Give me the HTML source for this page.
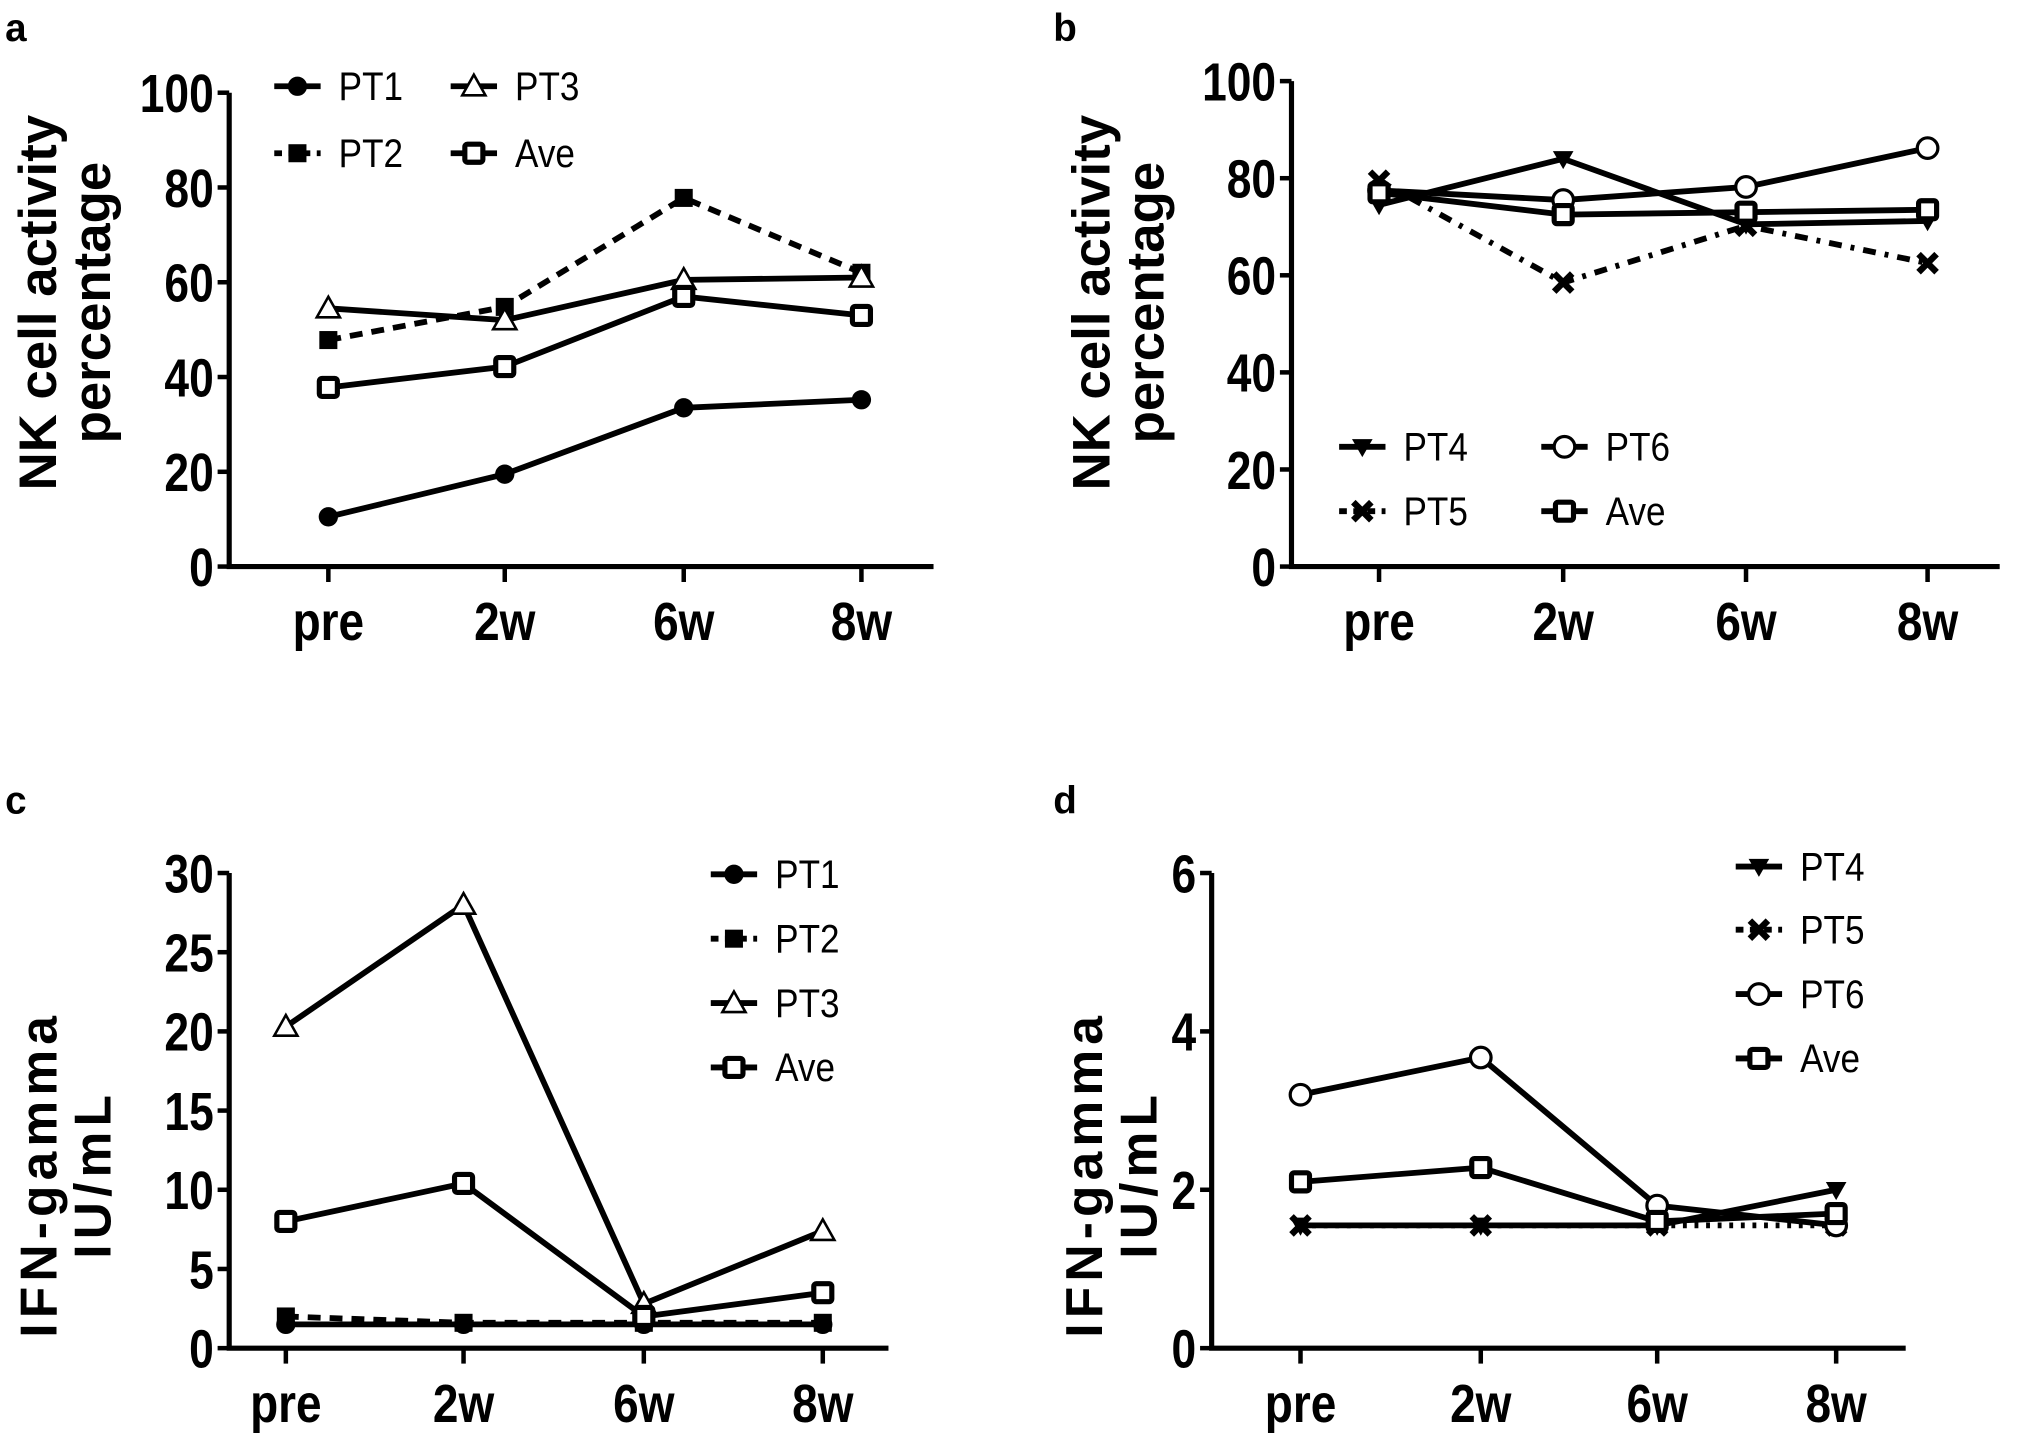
<!DOCTYPE html>
<html><head><meta charset="utf-8"><style>
html,body{margin:0;padding:0;background:#fff;}
svg{display:block;}
text{font-family:"Liberation Sans",Arial,sans-serif;fill:#000;}
</style></head><body>
<svg id="fig" width="2019" height="1437" viewBox="0 0 1568 1116" xmlns="http://www.w3.org/2000/svg"></svg>
<script>
const categories = ["pre","2w","6w","8w"];
// Panel a (NK activity %)
const aPT1 = [10.5, 19.5, 33.5, 35.2];
const aPT2 = [47.8, 54.8, 77.8, 62.0];
const aPT3 = [54.5, 52.0, 60.5, 61.0];
const aAve = [37.8, 42.2, 57.0, 53.0];
// Panel b
const bPT4 = [74.5, 84.0, 70.5, 71.2];
const bPT5 = [79.5, 58.5, 70.2, 62.5];
const bPT6 = [77.5, 75.5, 78.2, 86.2];
const bAve = [77.0, 72.5, 73.0, 73.5];
// Panel c (IFN-gamma)
const cPT1 = [1.5, 1.5, 1.5, 1.5];
const cPT2 = [2.0, 1.6, 1.6, 1.6];
const cPT3 = [20.3, 28.0, 2.8, 7.4];
const cAve = [8.0, 10.4, 2.0, 3.5];
// Panel d
const dPT4 = [1.55, 1.55, 1.55, 2.0];
const dPT5 = [1.55, 1.55, 1.55, 1.55];
const dPT6 = [3.2, 3.67, 1.8, 1.55];
const dAve = [2.1, 2.28, 1.6, 1.7];
const pctTicks = [0,20,40,60,80,100];
const cTicks = [0,5,10,15,20,25,30];
const dTicks = [0,2,4,6];

const NS="http://www.w3.org/2000/svg";
const svg=document.getElementById('fig');
function el(tag,attrs,parent){const e=document.createElementNS(NS,tag);for(const k in attrs)e.setAttribute(k,attrs[k]);(parent||svg).appendChild(e);return e;}
function txt(parent,x,y,s,size,weight,anchor,sx){
  const t=el('text',{transform:`translate(${x},${y}) scale(${sx},1)`,'font-size':size,'font-weight':weight,'text-anchor':anchor,'dominant-baseline':'central'},parent);
  t.textContent=s;return t;
}
function marker(g,type,x,y){
  if(type==='circle')return el('circle',{cx:x,cy:y,r:7.5,fill:'#000'},g);
  if(type==='ocircle')return el('circle',{cx:x,cy:y,r:8,fill:'#fff',stroke:'#000','stroke-width':2.5},g);
  if(type==='square')return el('rect',{x:x-7,y:y-7,width:14,height:14,fill:'#000'},g);
  if(type==='osquare')return el('rect',{x:x-7,y:y-7,width:14,height:14,rx:2,fill:'#fff',stroke:'#000','stroke-width':4},g);
  if(type==='otri')return el('path',{d:`M${x},${y-9}L${x+9},${y+7}L${x-9},${y+7}Z`,fill:'#fff',stroke:'#000','stroke-width':2},g);
  if(type==='dtri')return el('path',{d:`M${x-8},${y-6}L${x+8},${y-6}L${x},${y+8}Z`,fill:'#000'},g);
  if(type==='x')return el('path',{d:`M${x-7},${y-7}L${x+7},${y+7}M${x+7},${y-7}L${x-7},${y+7}`,stroke:'#000','stroke-width':5,fill:'none'},g);
}
function panel(cfg){
  const g=el('g',{});
  
  
  const ys=v=>cfg.y0+(cfg.yTop-cfg.y0)*(v/cfg.max);
  const xs=i=>cfg.xt[i];
  const lab=txt(g,cfg.lx,cfg.ly,cfg.letter,30,'bold','start',1);
  
  
  const ax=el('path',{d:`M${cfg.ax},${cfg.yTop}V${cfg.y0}H${cfg.xEnd}`,stroke:'#000','stroke-width':4,fill:'none'},g);
  
  
  cfg.ticks.forEach(v=>{
    el('line',{x1:cfg.ax-9,x2:cfg.ax,y1:ys(v),y2:ys(v),stroke:'#000','stroke-width':3.5},g);
    const t=txt(g,cfg.ax-12,ys(v)+1,String(v),42,'bold','end',0.82);
    
    
  });
  categories.forEach((c,i)=>{
    el('line',{x1:xs(i),x2:xs(i),y1:cfg.y0,y2:cfg.y0+12,stroke:'#000','stroke-width':3.5},g);
    const t=txt(g,xs(i),cfg.y0+43,c,42,'bold','middle',0.85);
    
    
  });
  cfg.title.forEach((s,j)=>{
    const t=el('text',{transform:`translate(${cfg.tx[j]},${cfg.ty}) rotate(-90)`,'font-size':cfg.tsize,'font-weight':'bold','text-anchor':'middle','dominant-baseline':'central','letter-spacing':cfg.ls||0},g);
    t.textContent=s;
    
    
  });
  cfg.series.forEach(s=>{
    const sg=el('g',{},g);
    
    
    const pts=s.data.map((v,i)=>xs(i)+','+ys(v)).join(' ');
    el('polyline',{points:pts,fill:'none',stroke:'#000','stroke-width':4.5,'stroke-dasharray':s.dash||'none','stroke-linejoin':'round'},sg);
    s.data.forEach((v,i)=>{
      const m=marker(sg,s.m,xs(i),ys(v));
      
      
    });
    const lg=el('g',{},g);
    
    
    el('line',{x1:s.lg[0],x2:s.lg[0]+cfg.lw,y1:s.lg[1],y2:s.lg[1],stroke:'#000','stroke-width':4.5,'stroke-dasharray':s.dash?'6,5':'none'},lg);
    marker(lg,s.m,s.lg[0]+cfg.lw/2,s.lg[1]);
    txt(lg,s.lg[0]+cfg.lw+14,s.lg[1],s.label,31,'normal','start',0.88);
  });
}
panel({name:'panel-a',letter:'a',lx:4,ly:22,ax:178,yTop:72,y0:440,xEnd:725,max:100,xt:[255,392,531,669],ticks:pctTicks,
  title:['NK cell activity','percentage'],tx:[30,72],ty:235,tsize:41,lw:36,
  series:[{label:'PT1',data:aPT1,m:'circle',lg:[213,67]},{label:'PT2',data:aPT2,m:'square',dash:'10,7',lg:[213,119]},
  {label:'PT3',data:aPT3,m:'otri',lg:[350,67]},{label:'Ave',data:aAve,m:'osquare',lg:[350,119]}]});
panel({name:'panel-b',letter:'b',lx:818,ly:22,ax:1003,yTop:63,y0:440,xEnd:1553,max:100,xt:[1071,1214,1356,1497],ticks:pctTicks,
  title:['NK cell activity','percentage'],tx:[848,890],ty:235,tsize:41,lw:36,
  series:[{label:'PT4',data:bPT4,m:'dtri',lg:[1040,347]},{label:'PT5',data:bPT5,m:'x',dash:'10,7,3,7',lg:[1040,397]},
  {label:'PT6',data:bPT6,m:'ocircle',lg:[1197,347]},{label:'Ave',data:bAve,m:'osquare',lg:[1197,397]}]});
panel({name:'panel-c',letter:'c',lx:4,ly:622,ax:178,yTop:678,y0:1047,xEnd:690,max:30,xt:[222,360,500,639],ticks:cTicks,
  title:['IFN-gamma','IU/mL'],tx:[30,72],ty:912,tsize:40,ls:4,lw:36,
  series:[{label:'PT1',data:cPT1,m:'circle',lg:[552,679]},{label:'PT2',data:cPT2,m:'square',dash:'10,7',lg:[552,729]},
  {label:'PT3',data:cPT3,m:'otri',lg:[552,779]},{label:'Ave',data:cAve,m:'osquare',lg:[552,829]}]});
panel({name:'panel-d',letter:'d',lx:818,ly:622,ax:941,yTop:678,y0:1047,xEnd:1480,max:6,xt:[1010,1150,1287,1426],ticks:dTicks,
  title:['IFN-gamma','IU/mL'],tx:[842,884],ty:912,tsize:40,ls:4,lw:36,
  series:[{label:'PT4',data:dPT4,m:'dtri',lg:[1348,673]},{label:'PT5',data:dPT5,m:'x',dash:'3,6',lg:[1348,722]},
  {label:'PT6',data:dPT6,m:'ocircle',lg:[1348,772]},{label:'Ave',data:dAve,m:'osquare',lg:[1348,822]}]});
</script>
</body></html>
